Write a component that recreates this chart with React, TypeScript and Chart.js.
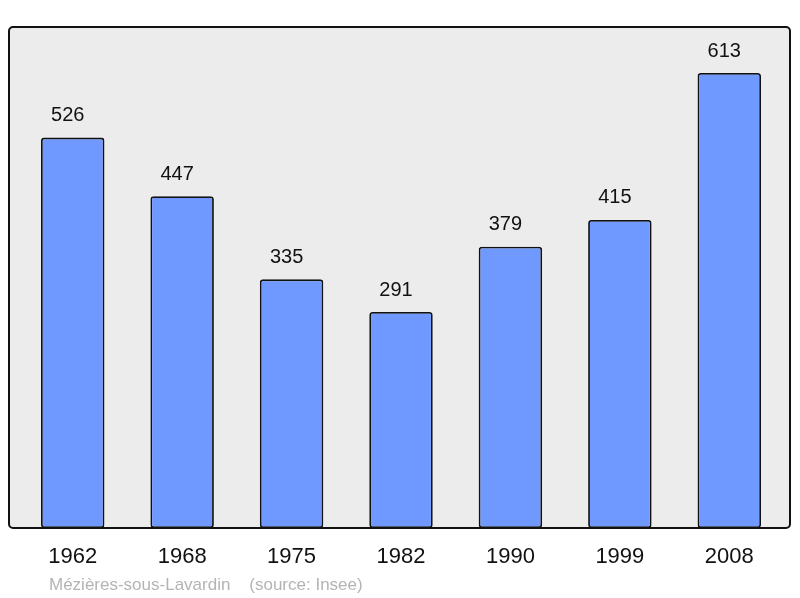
import React, { useEffect, useRef } from "react";
import { Chart, registerables } from "chart.js";

Chart.register(...registerables);

const years = ["1962", "1968", "1975", "1982", "1990", "1999", "2008"];
const population = [526, 447, 335, 291, 379, 415, 613];
const yMax = 675;
const sourceText = "Mézières-sous-Lavardin    (source: Insee)";

const FONT = "'Liberation Sans', Arial, sans-serif";

const framePlugin = {
  id: "frame",
  beforeDatasetsDraw(chart: any) {
    const { ctx, chartArea } = chart;
    const left = 9;
    const right = 790;
    const top = chartArea.top;
    const bottom = chartArea.bottom;
    ctx.save();
    ctx.beginPath();
    (ctx as any).roundRect(left, top, right - left, bottom - top, 4);
    ctx.fillStyle = "#ececec";
    ctx.fill();
    ctx.restore();
  },
  afterDatasetsDraw(chart: any) {
    const { ctx, chartArea, scales } = chart;
    const left = 9;
    const right = 790;
    const top = chartArea.top;
    const bottom = chartArea.bottom;
    ctx.save();
    ctx.beginPath();
    (ctx as any).roundRect(left, top, right - left, bottom - top, 4);
    ctx.lineWidth = 2;
    ctx.strokeStyle = "#111111";
    ctx.stroke();

    // value labels
    ctx.fillStyle = "#111111";
    ctx.textAlign = "center";
    ctx.textBaseline = "middle";
    ctx.font = `20px ${FONT}`;
    const meta = chart.getDatasetMeta(0);
    meta.data.forEach((bar: any, i: number) => {
      ctx.fillText(String(population[i]), bar.x - 5, bar.y - 22);
    });

    // x labels
    ctx.font = `22px ${FONT}`;
    years.forEach((y, i) => {
      const x = scales.x.getPixelForValue(i);
      ctx.fillText(y, x, bottom + 29);
    });

    // source
    ctx.textAlign = "left";
    ctx.font = `17px ${FONT}`;
    ctx.fillStyle = "#b4b4b4";
    ctx.fillText(sourceText, 49, bottom + 57);
    ctx.restore();
  },
};

export default function App() {
  const ref = useRef<HTMLCanvasElement | null>(null);
  useEffect(() => {
    if (!ref.current) return;
    const chart = new Chart(ref.current, {
      type: "bar",
      data: {
        labels: years,
        datasets: [
          {
            data: population,
            backgroundColor: "#7099ff",
            borderColor: "#111111",
            borderWidth: 1.8,
            borderRadius: 3,
            borderSkipped: false,
            barPercentage: 0.58,
            categoryPercentage: 1,
          },
        ],
      },
      options: {
        animation: false,
        responsive: false,
        maintainAspectRatio: false,
        layout: { padding: { left: 18, right: 16, top: 27, bottom: 70 } },
        plugins: { legend: { display: false }, tooltip: { enabled: false } },
        scales: {
          x: { display: false, offset: true },
          y: { display: false, min: 0, max: yMax },
        },
      },
      plugins: [framePlugin],
    });
    return () => chart.destroy();
  }, []);
  return (
    <div style={{ position: "fixed", left: 0, top: 0, width: 800, height: 598, background: "#ffffff" }}>
      <canvas ref={ref} width={800} height={598} style={{ width: 800, height: 598 }} />
    </div>
  );
}
